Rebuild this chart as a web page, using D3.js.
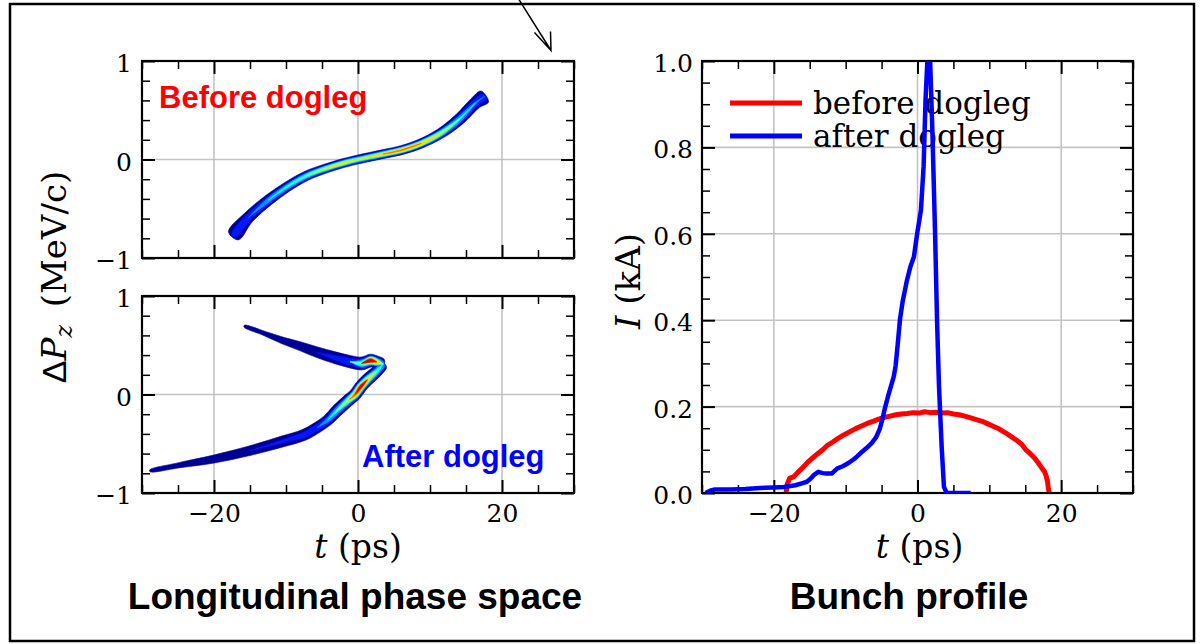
<!DOCTYPE html>
<html>
<head>
<meta charset="utf-8">
<script src="https://cdn.jsdelivr.net/npm/d3@7"></script>
<style>
  body { margin: 0; background: #fff; }
  svg { display: block; }
</style>
</head>
<body>
<div id="chart"></div>
<script>
// Step 0: data
//= ================================
// shared time axis ticks (ps)
var tMajor = [-20, 0, 20];
var tMinor = [-30, -25, -15, -10, -5, 5, 10, 15, 25, 30];

// phase space y ticks (MeV/c)
var dpMajor = [-1, 0, 1];
var dpMinor = [-0.8, -0.6, -0.4, -0.2, 0.2, 0.4, 0.6, 0.8];

// current y ticks (kA)
var iMajor = [0, 0.2, 0.4, 0.6, 0.8, 1.0];
var iMinor = [0.05, 0.1, 0.15, 0.25, 0.3, 0.35, 0.45, 0.5, 0.55, 0.65, 0.7, 0.75, 0.85, 0.9, 0.95];

// beam before dogleg: centre line, spread and peak density
var beforeT = [-17.3, -15.2, -12.5, -9.9, -7.2, -4.5, -1.9, 0, 3.5, 6.1, 8.8, 11.5, 14.1, 16.3, 17.6];
var beforeDP = [-0.775, -0.587, -0.416, -0.28, -0.167, -0.092, -0.034, 0, 0.055, 0.096, 0.164, 0.266, 0.41, 0.573, 0.64];
var beforeSpread = [0.065, 0.058, 0.054, 0.05, 0.048, 0.046, 0.045, 0.045, 0.045, 0.046, 0.048, 0.052, 0.058, 0.062, 0.068];
var beforeDensity = [0.22, 0.3, 0.38, 0.45, 0.52, 0.6, 0.66, 0.58, 0.7, 0.78, 0.74, 0.6, 0.44, 0.32, 0.24];

// beam after dogleg, lower branch (tail -> fold)
var lowT = [-28.9, -25, -20.1, -15, -10.4, -7.5, -5.7, -4.2, -3.0, -1.2, -0.4, 0.4, 1.3, 2.6, 3.5];
var lowDP = [-0.775, -0.72, -0.657, -0.57, -0.475, -0.41, -0.337, -0.26, -0.17, -0.05, 0.0, 0.08, 0.15, 0.235, 0.31];
var lowSpread = [0.01, 0.026, 0.04, 0.048, 0.055, 0.056, 0.055, 0.056, 0.06, 0.062, 0.062, 0.062, 0.062, 0.058, 0.045];
var lowDensity = [0.1, 0.12, 0.15, 0.18, 0.21, 0.25, 0.3, 0.36, 0.45, 0.62, 0.8, 0.95, 0.7, 0.5, 0.42];

// beam after dogleg, upper branch (fold -> head)
var upT = [3.5, 2.6, 1.8, 0.5, -1.1, -3.5, -5.7, -8, -10.4, -13, -15.8];
var upDP = [0.31, 0.33, 0.345, 0.315, 0.333, 0.38, 0.43, 0.49, 0.547, 0.62, 0.695];
var upSpread = [0.045, 0.06, 0.065, 0.065, 0.062, 0.058, 0.052, 0.044, 0.034, 0.022, 0.01];
var upDensity = [0.42, 0.75, 1.0, 0.55, 0.3, 0.22, 0.18, 0.15, 0.13, 0.11, 0.1];

// bunch current before dogleg
var redT = [-18.3, -18.1, -17.8, -17.2, -16.6, -16.0, -15.3, -14.6, -13.9, -13.2, -12.5, -11.8, -11.0, -10.2, -9.4, -8.6, -7.8, -7.0, -6.2, -5.4, -4.6, -3.8, -3.0, -2.2, -1.4, -0.6, 0.2, 1.0, 1.8, 2.6, 3.4, 4.2, 5.0, 5.8, 6.6, 7.4, 8.2, 9.0, 9.8, 10.6, 11.4, 12.2, 13.0, 13.8, 14.5, 15.1, 15.7, 16.3, 16.8, 17.3, 17.7, 17.9, 18.1, 18.2, 18.35];
var redI = [0.0, 0.022, 0.034, 0.038, 0.049, 0.058, 0.071, 0.081, 0.091, 0.1, 0.111, 0.118, 0.127, 0.135, 0.142, 0.149, 0.155, 0.161, 0.166, 0.171, 0.175, 0.178, 0.181, 0.183, 0.184, 0.186, 0.185, 0.188, 0.186, 0.187, 0.185, 0.186, 0.183, 0.181, 0.178, 0.174, 0.17, 0.166, 0.16, 0.154, 0.148, 0.14, 0.131, 0.122, 0.113, 0.1, 0.091, 0.081, 0.07, 0.058, 0.049, 0.04, 0.027, 0.012, 0.0];

// bunch current after dogleg
var blueT = [-29.5, -28.8, -28.2, -26.0, -24.0, -21.3, -20.0, -18.6, -17.0, -16.0, -15.4, -14.9, -14.4, -13.8, -13.2, -12.7, -11.95, -11.15, -10.4, -9.55, -8.7, -7.95, -7.1, -6.35, -5.8, -5.28, -4.9, -4.48, -4.1, -3.68, -3.3, -3.04, -2.75, -2.45, -2.08, -1.5, -1.0, -0.5, -0.05, 0.48, 0.85, 1.12, 1.4, 1.76, 2.08, 2.45, 2.72, 2.99, 3.36, 3.68, 4.05, 5.5, 7.4];
var blueI = [0.0, 0.006, 0.008, 0.008, 0.009, 0.012, 0.013, 0.014, 0.018, 0.023, 0.026, 0.033, 0.042, 0.049, 0.046, 0.045, 0.045, 0.057, 0.062, 0.07, 0.08, 0.092, 0.104, 0.116, 0.128, 0.147, 0.17, 0.2, 0.224, 0.248, 0.27, 0.295, 0.345, 0.4, 0.442, 0.49, 0.523, 0.547, 0.6, 0.655, 0.756, 0.91, 1.01, 1.0, 0.833, 0.6, 0.4, 0.248, 0.108, 0.014, 0.0, 0.0, 0.0];

// Step 1: page and panels
//= ================================
var svgWidth = 1202;
var svgHeight = 644;

var panelTop = {left: 142, top: 61, width: 432, height: 197};
var panelBottom = {left: 142, top: 296, width: 432, height: 197};
var panelRight = {left: 702, top: 61, width: 431, height: 432};

var serif = "'DejaVu Serif', serif";
var sans = "'Liberation Sans', Arial, sans-serif";

var svg = d3.select("#chart")
  .append("svg")
  .attr("width", svgWidth)
  .attr("height", svgHeight);

var defs = svg.append("defs");

// outer frame
svg.append("rect")
  .attr("x", 10)
  .attr("y", 4)
  .attr("width", 1184)
  .attr("height", 637)
  .attr("fill", "none")
  .attr("stroke", "#000")
  .attr("stroke-width", 2.5);

// stray arrow at the top
svg.append("path")
  .attr("d", "M518,-2 L551,50.5 M534.5,32.5 L551,50.5 L550.5,31.5")
  .attr("fill", "none")
  .attr("stroke", "#000")
  .attr("stroke-width", 1.5);

// jet colour map
function jet(v) {
  var c = function(a) { return Math.max(0, Math.min(1, a)) * 255; };
  return d3.rgb(c(1.5 - Math.abs(4 * v - 3)), c(1.5 - Math.abs(4 * v - 2)), c(1.5 - Math.abs(4 * v - 1))).formatHex();
}

var levels = [0.08, 0.195, 0.31, 0.425, 0.54, 0.655, 0.77, 0.885];
var levelColors = levels.map(function(d, i) { return jet(0.02 + i * 0.128); });

// function used for making a panel group, scales and clip
function makePanel(p, yDomain, id) {
  var g = svg.append("g")
    .attr("transform", `translate(${p.left}, ${p.top})`);

  defs.append("clipPath")
    .attr("id", id)
    .append("rect")
    .attr("width", p.width)
    .attr("height", p.height);

  var x = d3.scaleLinear().domain([-30, 30]).range([0, p.width]);
  var y = d3.scaleLinear().domain(yDomain).range([p.height, 0]);

  return {g: g, x: x, y: y, p: p, clip: `url(#${id})`};
}

// gridlines at major ticks
function drawGrid(panel, xs, ys) {
  var grid = panel.g.append("g")
    .attr("stroke", "#c4c4c4")
    .attr("stroke-width", 1.6);

  grid.selectAll(".gx")
    .data(xs)
    .enter()
    .append("line")
    .attr("x1", d => panel.x(d))
    .attr("x2", d => panel.x(d))
    .attr("y1", 0)
    .attr("y2", panel.p.height);

  grid.selectAll(".gy")
    .data(ys)
    .enter()
    .append("line")
    .attr("x1", 0)
    .attr("x2", panel.p.width)
    .attr("y1", d => panel.y(d))
    .attr("y2", d => panel.y(d));
}

// inward ticks on all four sides, labels bottom/left
function drawAxes(panel, xMaj, xMin, yMaj, yMin, showX, yFmt, yPad) {
  var g = panel.g;
  var w = panel.p.width;
  var h = panel.p.height;

  var sets = [
    {vals: xMin, len: 8, sw: 1.5},
    {vals: xMaj, len: 13, sw: 2}
  ];
  sets.forEach(function(s) {
    g.append("g").attr("transform", `translate(0, ${h})`)
      .call(d3.axisBottom(panel.x).tickValues(s.vals).tickSize(-s.len).tickSizeOuter(0).tickFormat(""))
      .attr("stroke-width", s.sw);
    g.append("g")
      .call(d3.axisTop(panel.x).tickValues(s.vals).tickSize(-s.len).tickSizeOuter(0).tickFormat(""))
      .attr("stroke-width", s.sw);
  });

  var ysets = [
    {vals: yMin, len: 8, sw: 1.5},
    {vals: yMaj, len: 13, sw: 2}
  ];
  ysets.forEach(function(s) {
    g.append("g")
      .call(d3.axisLeft(panel.y).tickValues(s.vals).tickSize(-s.len).tickSizeOuter(0).tickFormat(""))
      .attr("stroke-width", s.sw);
    g.append("g").attr("transform", `translate(${w}, 0)`)
      .call(d3.axisRight(panel.y).tickValues(s.vals).tickSize(-s.len).tickSizeOuter(0).tickFormat(""))
      .attr("stroke-width", s.sw);
  });

  g.selectAll(".domain").remove();
  g.selectAll(".tick line").attr("stroke", "#000");

  // tick labels
  if (showX) {
    var xl = g.append("g").attr("transform", `translate(0, ${h})`)
      .call(d3.axisBottom(panel.x).tickValues(xMaj).tickSize(0).tickPadding(11));
    xl.select(".domain").remove();
    xl.selectAll("text").attr("font-family", serif).attr("font-size", 25).attr("fill", "#000");
  }
  var yl = g.append("g")
    .call(d3.axisLeft(panel.y).tickValues(yMaj).tickSize(0).tickPadding(yPad).tickFormat(yFmt));
  yl.select(".domain").remove();
  yl.selectAll("text").attr("font-family", serif).attr("font-size", 25).attr("fill", "#000").attr("dy", "0.42em");

  g.append("rect")
    .attr("width", w)
    .attr("height", h)
    .attr("fill", "none")
    .attr("stroke", "#000")
    .attr("stroke-width", 2.2);
}

// function used for drawing density contours of a beam
function drawBeams(panel, beams) {
  var layer = panel.g.append("g").attr("clip-path", panel.clip);
  var pxPerUnit = Math.abs(panel.y(1) - panel.y(0));
  var shape = d3.line().curve(d3.curveCatmullRomClosed.alpha(0.5));

  var prepared = beams.map(function(b) {
    var pts = b.t.map((t, i) => [panel.x(t), panel.y(b.dp[i])]);
    var normals = pts.map(function(p, i) {
      var a = pts[Math.max(i - 1, 0)];
      var c = pts[Math.min(i + 1, pts.length - 1)];
      var dx = c[0] - a[0], dy = c[1] - a[1];
      var l = Math.hypot(dx, dy) || 1;
      return [-dy / l, dx / l];
    });
    return {b: b, pts: pts, normals: normals};
  });

  levels.forEach(function(L, k) {
    prepared.forEach(function(pr) {
      var b = pr.b;
      var n = pr.pts.length;
      var hw = b.density.map(function(D, i) {
        if (D <= L) return 0;
        return b.spread[i] * pxPerUnit * Math.sqrt(Math.log(D / L) / Math.log(D / levels[0]));
      });

      // split into runs where this level exists
      var runs = [];
      var start = null;
      for (var i = 0; i < n; i++) {
        if (hw[i] > 0 && (i === 0 || hw[i - 1] <= 0)) start = i;
        if (hw[i] > 0 && (i === n - 1 || hw[i + 1] <= 0)) {
          runs.push([Math.max(start - 1, 0), Math.min(i + 1, n - 1)]);
        }
      }

      runs.forEach(function(r) {
        var upper = [], lower = [];
        for (var j = r[0]; j <= r[1]; j++) {
          var p = pr.pts[j], nv = pr.normals[j];
          upper.push([p[0] + nv[0] * hw[j], p[1] + nv[1] * hw[j]]);
          lower.push([p[0] - nv[0] * hw[j], p[1] - nv[1] * hw[j]]);
        }
        layer.append("path")
          .attr("d", shape(upper.concat(lower.reverse())))
          .attr("fill", levelColors[k])
          .attr("stroke", levelColors[k])
          .attr("stroke-width", 0.6);
      });
    });
  });
}

// Step 2: longitudinal phase space, before dogleg
//= ================================
var top1 = makePanel(panelTop, [-1, 1], "clipTop");
drawGrid(top1, tMajor, [0]);
drawBeams(top1, [{t: beforeT, dp: beforeDP, spread: beforeSpread, density: beforeDensity}]);
drawAxes(top1, tMajor, tMinor, dpMajor, dpMinor, false, d3.format("d"), 10);

top1.g.append("text")
  .attr("x", 17)
  .attr("y", 47)
  .attr("font-family", sans)
  .attr("font-weight", "bold")
  .attr("font-size", 31)
  .attr("fill", "#ff0000")
  .text("Before dogleg");

// Step 3: longitudinal phase space, after dogleg
//= ================================
var bot1 = makePanel(panelBottom, [-1, 1], "clipBottom");
drawGrid(bot1, tMajor, [0]);
drawBeams(bot1, [
  {t: lowT, dp: lowDP, spread: lowSpread, density: lowDensity},
  {t: upT, dp: upDP, spread: upSpread, density: upDensity}
]);
drawAxes(bot1, tMajor, tMinor, dpMajor, dpMinor, true, d3.format("d"), 10);

bot1.g.append("text")
  .attr("x", 220)
  .attr("y", 171)
  .attr("font-family", sans)
  .attr("font-weight", "bold")
  .attr("font-size", 31)
  .attr("fill", "#0000ff")
  .text("After dogleg");

// shared y label
var dpLabel = svg.append("text")
  .attr("transform", "translate(66, 277) rotate(-90)")
  .attr("text-anchor", "middle")
  .attr("font-family", serif)
  .attr("font-size", 34)
  .attr("fill", "#000");
dpLabel.append("tspan").attr("font-family", sans).text("\u0394");
dpLabel.append("tspan").attr("font-style", "italic").text("P");
dpLabel.append("tspan").attr("font-style", "italic").attr("font-size", 24).attr("baseline-shift", "-6").text("z");
dpLabel.append("tspan").text("\u2009 (MeV/c)");

function tLabel(cx) {
  var lab = svg.append("text")
    .attr("x", cx)
    .attr("y", 558)
    .attr("text-anchor", "middle")
    .attr("font-family", serif)
    .attr("font-size", 33)
    .attr("fill", "#000");
  lab.append("tspan").attr("font-style", "italic").text("t");
  lab.append("tspan").text(" (ps)");
}
tLabel(panelBottom.left + panelBottom.width / 2);

svg.append("text")
  .attr("x", 355)
  .attr("y", 609)
  .attr("text-anchor", "middle")
  .attr("font-family", sans)
  .attr("font-weight", "bold")
  .attr("font-size", 37)
  .attr("fill", "#000")
  .text("Longitudinal phase space");

// Step 4: bunch profile
//= ================================
var right = makePanel(panelRight, [0, 1], "clipRight");
drawGrid(right, tMajor, [0.2, 0.4, 0.6, 0.8]);

var curLine = d3.line()
  .x(d => right.x(d[0]))
  .y(d => right.y(d[1]));

var plotLayer = right.g.append("g").attr("clip-path", right.clip);

plotLayer.append("path")
  .datum(redT.map((t, i) => [t, redI[i]]))
  .attr("d", curLine)
  .attr("fill", "none")
  .attr("stroke", "#ff0000")
  .attr("stroke-width", 5)
  .attr("stroke-linejoin", "round");

drawAxes(right, tMajor, tMinor, iMajor, iMinor, true, d3.format(".1f"), 9);

// legend
var legendItems = [
  {label: "before dogleg", color: "#ff0000", y: 42},
  {label: "after dogleg", color: "#0000ff", y: 75}
];
legendItems.forEach(function(d) {
  right.g.append("line")
    .attr("x1", 28)
    .attr("x2", 100)
    .attr("y1", d.y)
    .attr("y2", d.y)
    .attr("stroke", d.color)
    .attr("stroke-width", 5);
  right.g.append("text")
    .attr("x", 111)
    .attr("y", d.y + 11)
    .attr("font-family", serif)
    .attr("font-size", 31)
    .attr("fill", "#000")
    .text(d.label);
});

right.g.append("g").attr("clip-path", right.clip)
  .append("path")
  .datum(blueT.map((t, i) => [t, blueI[i]]))
  .attr("d", curLine)
  .attr("fill", "none")
  .attr("stroke", "#0000ff")
  .attr("stroke-width", 4.5)
  .attr("stroke-linejoin", "round");

var iLabel = svg.append("text")
  .attr("transform", `translate(640, ${panelRight.top + panelRight.height / 2 + 4}) rotate(-90)`)
  .attr("text-anchor", "middle")
  .attr("font-family", serif)
  .attr("font-size", 34)
  .attr("fill", "#000");
iLabel.append("tspan").attr("font-style", "italic").text("I");
iLabel.append("tspan").text(" (kA)");

tLabel(panelRight.left + panelRight.width / 2 + 2);

svg.append("text")
  .attr("x", 909)
  .attr("y", 609)
  .attr("text-anchor", "middle")
  .attr("font-family", sans)
  .attr("font-weight", "bold")
  .attr("font-size", 37)
  .attr("fill", "#000")
  .text("Bunch profile");
</script>
</body>
</html>
